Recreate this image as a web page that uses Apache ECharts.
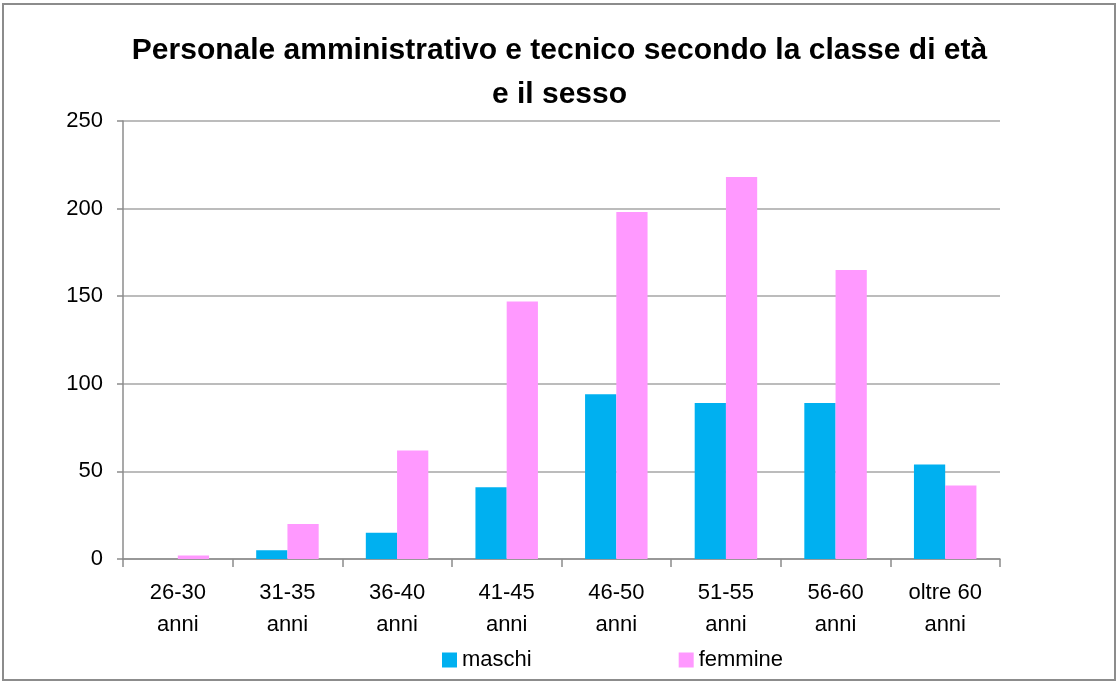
<!DOCTYPE html>
<html>
<head>
<meta charset="utf-8">
<title>Personale amministrativo e tecnico</title>
<script src="https://cdn.jsdelivr.net/npm/echarts@6/dist/echarts.min.js"></script>
<style>
  html, body { margin: 0; padding: 0; background: #fff; }
  #chart { width: 1119px; height: 682px; }
</style>
</head>
<body>
<div id="chart"></div>
<script>
// dati
var classi = ['26-30\nanni', '31-35\nanni', '36-40\nanni', '41-45\nanni', '46-50\nanni', '51-55\nanni', '56-60\nanni', 'oltre 60\nanni'];
var maschi = [0, 5, 15, 41, 94, 89, 89, 54];
var femmine = [2, 20, 62, 147, 198, 218, 165, 42];
var yTicks = [0, 50, 100, 150, 200, 250];

var font = "'Liberation Sans', sans-serif";

var chart = echarts.init(document.getElementById('chart'));
chart.setOption({
  animation: false,
  graphic: [{
    type: 'rect',
    shape: { x: 3, y: 4, width: 1112, height: 676 },
    style: { fill: 'none', stroke: '#8c8c8c', lineWidth: 2 }
  }],
  title: {
    text: 'Personale amministrativo e tecnico secondo la classe di età\ne il sesso',
    left: 'center',
    top: 24,
    textStyle: {
      fontFamily: font,
      fontWeight: 'bold',
      fontSize: 30,
      lineHeight: 44,
      color: '#000'
    }
  },
  legend: {
    bottom: 6,
    left: 437,
    itemGap: 147,
    itemWidth: 15,
    itemHeight: 15,
    icon: 'rect',
    textStyle: { fontFamily: font, fontSize: 22, color: '#000' },
    data: ['maschi', 'femmine']
  },
  grid: { left: 123, right: 119, top: 121, bottom: 123 },
  xAxis: {
    type: 'category',
    data: classi,
    axisLine: { lineStyle: { color: '#8c8c8c', width: 1.5 } },
    axisTick: { show: true, length: 8, lineStyle: { color: '#8c8c8c', width: 1.5 } },
    axisLabel: {
      fontFamily: font,
      fontSize: 22,
      lineHeight: 32,
      color: '#000',
      margin: 18,
      interval: 0
    }
  },
  yAxis: {
    type: 'value',
    min: yTicks[0],
    max: yTicks[yTicks.length - 1],
    interval: 50,
    axisLine: { show: true, lineStyle: { color: '#8c8c8c', width: 1.5 } },
    axisTick: { show: true, length: 6, lineStyle: { color: '#8c8c8c', width: 1.5 } },
    axisLabel: { fontFamily: font, fontSize: 22, color: '#000', margin: 20 },
    splitLine: { lineStyle: { color: '#a6a6a6', width: 1.5 } }
  },
  series: [
    {
      name: 'maschi',
      type: 'bar',
      data: maschi,
      barGap: '0%',
      barCategoryGap: '43%',
      itemStyle: { color: '#00B0F0' }
    },
    {
      name: 'femmine',
      type: 'bar',
      data: femmine,
      itemStyle: { color: '#FF99FF' }
    }
  ]
});
</script>
</body>
</html>
